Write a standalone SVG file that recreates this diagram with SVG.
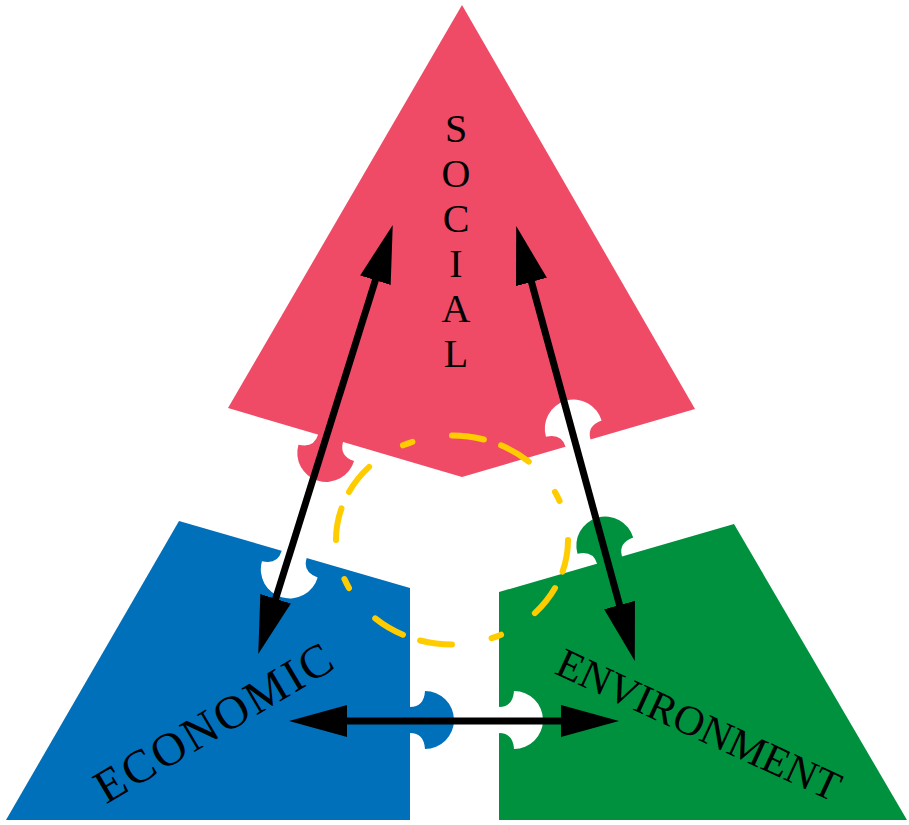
<svg xmlns="http://www.w3.org/2000/svg" xmlns:xlink="http://www.w3.org/1999/xlink" width="909" height="825" viewBox="0 0 909 825">
  <style>
    .social { fill: #EF4B67; }
    .economic { fill: #0070BB; }
    .environment { fill: #00913F; }
    .hole { fill: #FFFFFF; }
    .label { font-family: "Liberation Serif", "Times New Roman", serif; fill: #000000; }
    .link { stroke: #000000; stroke-width: 7; fill: none; }
    .ring { fill: none; stroke: #FFCC00; stroke-width: 6; stroke-linecap: round; stroke-dasharray: 32 18 32 40 10 40; }
  </style>
  <defs>
    <!-- jigsaw tab: neck on the x axis, head growing towards +y -->
    <path id="tab" d="M-13,-3 L-13,0 Q-13,14 -29,15 A29 29 0 1 0 29,15 Q13,14 13,0 L13,-3 Z"/>
    <marker id="head" viewBox="0 -16 58 32" markerWidth="58" markerHeight="32" refX="1" refY="0" orient="auto-start-reverse" markerUnits="userSpaceOnUse">
      <path d="M0,-16 L58,0 L0,16 Z" fill="#000000"/>
    </marker>
  </defs>

  <!-- SOCIAL piece -->
  <g id="social">
    <path class="social" d="M462,5 L695,409 L462,477 L228,408 Z"/>
    <use xlink:href="#tab" class="social" transform="translate(330.5,438.5) rotate(16.4)"/>
    <use xlink:href="#tab" class="hole" transform="translate(578,443) rotate(163.7)"/>
    <!-- letters stacked one per line -->
    <text class="label" font-size="40" text-anchor="middle"><tspan x="456" y="142">S</tspan><tspan x="456" y="187">O</tspan><tspan x="456" y="232">C</tspan><tspan x="456" y="277">I</tspan><tspan x="456" y="322">A</tspan><tspan x="456" y="367">L</tspan></text>
  </g>

  <!-- ECONOMIC piece -->
  <g id="economic">
    <path class="economic" d="M179,521 L410,588 L410,820 L6,820 Z"/>
    <use xlink:href="#tab" class="economic" transform="translate(410,720) rotate(-90)"/>
    <use xlink:href="#tab" class="hole" transform="translate(294,555) rotate(16.2)"/>
    <text class="label" font-size="47" letter-spacing="2.5" text-anchor="middle" transform="translate(222.5,735.5) rotate(-30.6)">ECONOMIC</text>
  </g>

  <!-- ENVIRONMENT piece -->
  <g id="environment">
    <path class="environment" d="M499,592 L734,524 L907,820 L499,820 Z"/>
    <use xlink:href="#tab" class="environment" transform="translate(609.5,560) rotate(163.9)"/>
    <use xlink:href="#tab" class="hole" transform="translate(499,720) rotate(-90)"/>
    <text class="label" font-size="42" text-anchor="middle" transform="translate(693,737.5) rotate(24.8)">ENVIRONMENT</text>
  </g>

  <!-- dashed ring in the middle -->
  <g id="ring">
    <ellipse class="ring" cx="452" cy="540" rx="116" ry="104.5" pathLength="688"/>
  </g>

  <!-- two-way links between the pieces -->
  <g id="connectors">
    <line class="link" x1="375.7" y1="279.3" x2="275.3" y2="599.7" marker-start="url(#head)" marker-end="url(#head)"/>
    <line class="link" x1="531.2" y1="281" x2="619.8" y2="606" marker-start="url(#head)" marker-end="url(#head)"/>
    <line class="link" x1="346" y1="721" x2="562" y2="721" marker-start="url(#head)" marker-end="url(#head)"/>
  </g>
</svg>
